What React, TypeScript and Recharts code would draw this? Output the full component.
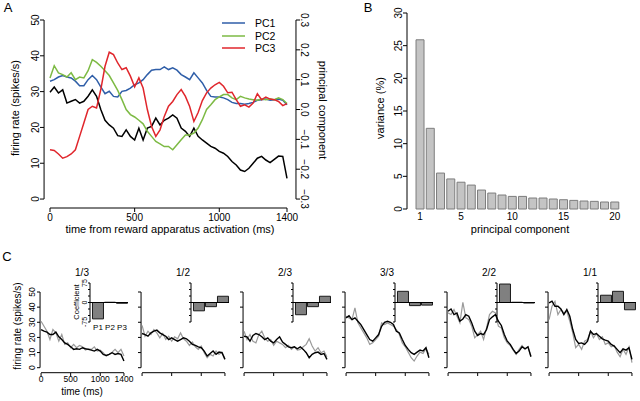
import React from "react";
import {
  Bar,
  BarChart,
  Legend,
  Line,
  LineChart,
  ReferenceLine,
  XAxis,
  YAxis,
} from "recharts";

const FONT = '"Liberation Sans", Arial, Helvetica, sans-serif';

// ---------- panel A: population firing rate + principal components ----------
const timeA = [
  0, 25, 50, 75, 100, 125, 150, 175, 200, 225, 250, 275, 300, 325, 350, 375,
  400, 425, 450, 475, 500, 525, 550, 575, 600, 625, 650, 675, 700, 725, 750,
  775, 800, 825, 850, 875, 900, 925, 950, 975, 1000, 1025, 1050, 1075, 1100,
  1125, 1150, 1175, 1200, 1225, 1250, 1275, 1300, 1325, 1350, 1375, 1400,
];
const rateA = [
  29.8, 31.3, 29.6, 30.5, 26.8, 27.3, 27.8, 26.8, 27.3, 28.7, 30.5, 28.7, 25,
  22, 20.7, 19.8, 17.7, 17.5, 19.3, 17.5, 16.5, 19.8, 16.5, 19.8, 20.3, 22.6,
  20.7, 22, 22.6, 23.5, 22.6, 19.8, 18.9, 17.5, 19.8, 17.5, 16.5, 15.6, 14.7,
  14.2, 13.3, 12.8, 11.9, 10.5, 9.5, 8.1, 7.7, 8.6, 10, 11.4, 11.9, 10.9, 10.2,
  11.1, 12, 11.9, 5.8,
];
const pc1A = [
  0.095, 0.1, 0.109, 0.114, 0.109, 0.106, 0.095, 0.08, 0.08, 0.1, 0.114, 0.1,
  0.076, 0.053, 0.061, 0.044, 0.042, 0.061, 0.064, 0.072, 0.083, 0.089, 0.1,
  0.117, 0.132, 0.134, 0.134, 0.143, 0.134, 0.14, 0.132, 0.117, 0.109, 0.1,
  0.123, 0.106, 0.089, 0.064, 0.044, 0.042, 0.042, 0.039, 0.033, 0.024, 0.02,
  0.02, 0.018, 0.02, 0.024, 0.031, 0.033, 0.035, 0.031, 0.033, 0.035, 0.031,
  0.016,
];
const pc2A = [
  0.106, 0.147, 0.123, 0.117, 0.109, 0.123, 0.1, 0.109, 0.106, 0.13, 0.167,
  0.158, 0.145, 0.13, 0.114, 0.089, 0.064, 0.033, 0.0, -0.017, -0.025, -0.036,
  -0.048, -0.073, -0.09, -0.107, -0.115, -0.124, -0.124, -0.135, -0.118,
  -0.101, -0.085, -0.085, -0.079, -0.062, -0.034, 0.0, 0.016, 0.033, 0.042,
  0.05, 0.05, 0.039, 0.033, 0.044, 0.039, 0.035, 0.033, 0.031, 0.035, 0.033,
  0.035, 0.033, 0.039, 0.033, 0.02,
];
const pc3A = [
  -0.135, -0.137, -0.149, -0.163, -0.158, -0.149, -0.135, -0.09, -0.045, 0.0,
  0.011, 0.005, 0.067, 0.145, 0.192, 0.184, 0.156, 0.134, 0.14, 0.112, 0.076,
  0.106, 0.072, 0.0, -0.057, -0.09, -0.068, -0.023, 0.011, 0.027, 0.05, 0.067,
  0.044, 0.01, -0.04, -0.01, 0.03, 0.056, 0.072, 0.083, 0.091, 0.078, 0.056,
  0.058, 0.033, 0.011, 0.016, 0.008, 0.022, 0.053, 0.033, 0.042, 0.035, 0.033,
  0.027, 0.013, 0.02,
];
const pcNames = ["PC1", "PC2", "PC3"];
const pcColors = ["#2f5ea8", "#7dba44", "#e0262c"];
const rateTicksA = [0, 10, 20, 30, 40, 50];
const pcTicksA = [-0.3, -0.2, -0.1, 0, 0.1, 0.2, 0.3];
const timeTicksA = [0, 500, 1000, 1400];

// ---------- panel B: variance explained ----------
const componentsB = [
  1, 2, 3, 4, 5, 6, 7, 8, 9, 10, 11, 12, 13, 14, 15, 16, 17, 18, 19, 20,
];
const varianceB = [
  25.9, 12.35, 5.5, 4.6, 4.1, 3.66, 2.9, 2.44, 2.14, 1.93, 1.93, 1.68, 1.68,
  1.53, 1.42, 1.32, 1.22, 1.17, 1.07, 1.07,
];
const varianceTicksB = [0, 5, 10, 15, 20, 25, 30];
const componentLabelsB = [1, 5, 10, 15, 20];

// ---------- panel C: example neurons, data (black) vs. reconstruction (gray) ----------
const timeC = [
  0, 50, 100, 150, 200, 250, 300, 350, 400, 450, 500, 550, 600, 650, 700, 750,
  800, 850, 900, 950, 1000, 1050, 1100, 1150, 1200, 1250, 1300, 1350, 1400,
];
const rateTicksC = [0, 10, 20, 30, 40, 50];
const timeTicksC = [0, 500, 1000, 1400];
const titlesC = ["1/3", "1/2", "2/3", "3/3", "2/2", "1/1"];

const black13 = [25.2, 24.1, 23.5, 21.9, 21.9, 23.5, 20.4, 18.6, 16.4, 15.4, 13.8, 12.1, 12.5, 12.1, 13.2, 12.5, 12.1, 11.6, 11, 12.1, 11, 8.8, 8.1, 8.8, 9.9, 8.8, 9.4, 8.8, 4.4];
const gray13 = [30.7, 27.4, 24.1, 18.6, 25.2, 23, 17.5, 21.9, 15.4, 16.4, 13.2, 15.4, 13.2, 14.7, 13.8, 11.6, 12.5, 12.1, 13.8, 11, 11.6, 9.9, 7.7, 8.8, 10.3, 12.1, 9.9, 12.1, 7.7];
const black12 = [22.6, 21.9, 20.8, 23, 24.1, 24.8, 23, 21.9, 20.8, 18.6, 19.7, 18.6, 17.5, 18.6, 19.7, 19.1, 17.5, 15.4, 14.7, 13.8, 13.2, 11, 7.7, 9.4, 11, 8.8, 10.3, 9.9, 5.5];
const gray12 = [27.9, 20.8, 24.1, 21.9, 25.2, 23, 19.7, 22.6, 18.6, 20.8, 17.5, 20.4, 19.1, 23, 19.1, 17.5, 14.7, 16.9, 13.8, 12.1, 14.3, 9.9, 6.6, 8.8, 7.7, 11, 8.8, 10.3, 5.9];
const black23 = [20.8, 20.4, 17.5, 21.3, 22.6, 21.9, 20.4, 18.6, 19.7, 17.5, 16.4, 18.6, 20.4, 16.9, 15.4, 13.8, 13.2, 13.8, 12.5, 13.8, 12.1, 9.9, 6.6, 8.8, 9.9, 10.3, 8.8, 9.4, 5.5];
const gray23 = [24.1, 18.6, 21.9, 17.5, 16.4, 21.9, 24.1, 19.7, 17.5, 18.6, 14.7, 17.5, 16.4, 15.4, 13.2, 14.7, 12.1, 13.8, 11.6, 12.1, 13.8, 15.4, 19.1, 14.3, 11, 13.2, 9.9, 11, 7.2];
const black33 = [32.9, 34.4, 31.8, 32.9, 30.7, 28.5, 25.2, 21.9, 18.6, 17.5, 19.7, 21.9, 27.4, 30, 30.7, 30, 28.5, 24.1, 23, 18.6, 14.7, 12.1, 9.9, 8.8, 10.3, 11.6, 11, 13.2, 6.6];
const gray33 = [34, 32.9, 31.8, 39.5, 29.6, 26.3, 23, 19.7, 15.4, 16.4, 18.6, 20.8, 29.6, 28.5, 29.6, 28.5, 27.4, 25.2, 21.9, 16.4, 13.8, 10.3, 6.6, 4.4, 7.7, 10.3, 9.4, 12.5, 8.8];
const black22 = [37.3, 38.8, 35.1, 36.2, 30.7, 32.2, 35.1, 34, 29.6, 24.1, 21.3, 22.6, 21.9, 25.2, 31.8, 33.6, 35.1, 30.7, 27.9, 21.9, 17.5, 15.4, 12.1, 9.4, 11, 13.8, 12.5, 13.8, 7.2];
const gray22 = [36.2, 35.1, 38.4, 34, 29.6, 43.2, 32.9, 31.8, 27.4, 19.7, 21.9, 24.1, 18.6, 26.3, 35.1, 37.3, 36.2, 27.4, 26.3, 19.7, 16.4, 14.7, 11.6, 8.8, 12.1, 14.7, 12.1, 13.8, 7.7];
const black11 = [42.8, 43.9, 40.6, 40.6, 38.8, 35.1, 38.4, 34, 25.2, 18.6, 16, 16.4, 15.4, 17.5, 24.1, 21.9, 22.6, 20.8, 19.1, 18.2, 17.5, 15.4, 14.3, 12.1, 9.9, 12.5, 11.6, 13.2, 5.5];
const gray11 = [31.8, 40.6, 43.9, 35.1, 38.4, 36.2, 37.3, 30.7, 23, 13.2, 15.4, 12.1, 17.5, 18.6, 24.1, 19.7, 22.6, 18.6, 20.4, 15.4, 16.4, 13.8, 14.7, 10.3, 7.2, 12.1, 8.8, 13.8, 3.3];

const coefNames = ["P1", "P2", "P3"];
const coef13 = [-63, 1, -3];
const coef12 = [-32, -16, 24];
const coef23 = [-47, -16, 24];
const coef33 = [43, -12, -10];
const coef22 = [71, 1, -2];
const coef11 = [28, 43, -28];
const coefTicks = [-75, -50, -25, 0, 25, 50, 75];

// build chart rows
const dataA = timeA.map((t, i) => ({
  t,
  rate: rateA[i],
  pc1: pc1A[i],
  pc2: pc2A[i],
  pc3: pc3A[i],
}));
const dataB = componentsB.map((pc, i) => ({ pc, v: varianceB[i] }));
const tracesC = [
  [black13, gray13],
  [black12, gray12],
  [black23, gray23],
  [black33, gray33],
  [black22, gray22],
  [black11, gray11],
].map(([black, gray]) => timeC.map((t, i) => ({ t, black: black[i], gray: gray[i] })));
const coefsC = [coef13, coef12, coef23, coef33, coef22, coef11].map((c) =>
  coefNames.map((name, i) => ({ name, v: c[i] })),
);

// layout of the small multiples (x of each y axis)
const axC = [40, 141, 243, 345, 447, 548];

const fmtPc = (v: number) =>
  v === 0 ? "0.0" : (v < 0 ? "\u2212" : "") + Math.abs(v).toFixed(1);

const noLabel = () => <g />;

const leftTick =
  (size: number, fmt: (v: number) => string = String, show: (v: number) => boolean = () => true) =>
  (p: any) =>
    show(p.payload.value) ? (
      <text
        x={p.x}
        y={p.y}
        transform={`rotate(-90 ${p.x} ${p.y})`}
        textAnchor="middle"
        fontSize={size}
        fontFamily={FONT}
        fill="#000"
      >
        {fmt(p.payload.value)}
      </text>
    ) : (
      <g />
    );

// R-style detached axis: tick mark + rotated label, pushed `gap` px away from the plot
const detachedTick =
  (side: 1 | -1, gap: number, size: number, fmt: (v: number) => string = String) =>
  (p: any) => {
    const x0 = p.x + side * gap;
    const tx = x0 + side * 5;
    return (
      <g>
        <line x1={x0} y1={p.y} x2={x0 + side * 4} y2={p.y} stroke="#000" strokeWidth={1} />
        <text
          x={tx}
          y={p.y}
          transform={`rotate(${side * 90} ${tx} ${p.y})`}
          textAnchor="middle"
          fontSize={size}
          fontFamily={FONT}
          fill="#000"
        >
          {fmt(p.payload.value)}
        </text>
      </g>
    );
  };

const Txt = ({ x, y, size, rot = 0, children }: any) => (
  <div
    style={{
      position: "absolute",
      left: x,
      top: y,
      transform: `translate(-50%, -50%) rotate(${rot}deg)`,
      fontFamily: FONT,
      fontSize: size,
      lineHeight: 1,
      whiteSpace: "nowrap",
      color: "#000",
    }}
  >
    {children}
  </div>
);

const LegendA = (props: any) => (
  <div style={{ fontFamily: FONT, fontSize: 10.5 }}>
    {(props.payload || [])
      .filter((p: any) => pcNames.includes(p.value))
      .map((p: any) => (
        <div key={p.value} style={{ display: "flex", alignItems: "center", height: 12.5 }}>
          <svg width={23} height={4}>
            <line x1={0} y1={2} x2={23} y2={2} stroke={p.color} strokeWidth={1.5} />
          </svg>
          <span style={{ marginLeft: 10 }}>{p.value}</span>
        </div>
      ))}
  </div>
);

const axisStroke = { stroke: "#000", strokeWidth: 1 };

function PanelA() {
  return (
    <div style={{ position: "absolute", left: 0, top: 0 }}>
      <LineChart width={340} height={240} data={dataA} margin={{ top: 20, right: 0, bottom: 0, left: 0 }}>
        <XAxis
          dataKey="t"
          type="number"
          domain={[0, 1400]}
          ticks={timeTicksA}
          interval={0}
          axisLine={axisStroke}
          tickLine={axisStroke}
          tickSize={4}
          tickMargin={2}
          height={32}
          tick={{ fontSize: 10, fill: "#000", fontFamily: FONT }}
        />
        <YAxis
          yAxisId="rate"
          domain={[-2.5, 50]}
          ticks={rateTicksA}
          interval={0}
          width={50}
          axisLine={false}
          tickLine={false}
          tickSize={0}
          tickMargin={0}
          tick={detachedTick(-1, 6, 10)}
        />
        <YAxis
          yAxisId="pc"
          orientation="right"
          domain={[-0.33, 0.3]}
          ticks={pcTicksA}
          interval={0}
          width={53}
          axisLine={false}
          tickLine={false}
          tickSize={0}
          tickMargin={0}
          tick={detachedTick(1, 9, 10, fmtPc)}
        />
        <ReferenceLine yAxisId="rate" ifOverflow="visible" segment={[{ x: -35, y: 0 }, { x: -35, y: 50 }]} stroke="#000" />
        <ReferenceLine yAxisId="pc" ifOverflow="visible" segment={[{ x: 1453, y: -0.3 }, { x: 1453, y: 0.3 }]} stroke="#000" />
        <Line yAxisId="rate" dataKey="rate" stroke="#000" strokeWidth={1.5} dot={false} legendType="none" isAnimationActive={false} />
        <Line yAxisId="pc" dataKey="pc1" name={pcNames[0]} stroke={pcColors[0]} strokeWidth={1.5} dot={false} isAnimationActive={false} />
        <Line yAxisId="pc" dataKey="pc2" name={pcNames[1]} stroke={pcColors[1]} strokeWidth={1.5} dot={false} isAnimationActive={false} />
        <Line yAxisId="pc" dataKey="pc3" name={pcNames[2]} stroke={pcColors[2]} strokeWidth={1.5} dot={false} isAnimationActive={false} />
        <Legend
          layout="vertical"
          verticalAlign="middle"
          align="center"
          wrapperStyle={{ left: 222, top: 17, width: 70 }}
          content={LegendA}
        />
      </LineChart>
    </div>
  );
}

function PanelB() {
  return (
    <div style={{ position: "absolute", left: 330, top: 0 }}>
      <BarChart width={300} height={240} data={dataB} margin={{ top: 13, right: 10, bottom: 0, left: 0 }} barCategoryGap="10%">
        <XAxis
          dataKey="pc"
          padding={{ left: 8, right: 0 }}
          axisLine={false}
          tickLine={false}
          tickSize={2}
          tickMargin={2}
          interval={0}
          height={31}
          tick={(p: any) =>
            componentLabelsB.includes(p.payload.value) ? (
              <text x={p.x} y={p.y} dy="0.71em" textAnchor="middle" fontSize={10} fontFamily={FONT} fill="#000">
                {p.payload.value}
              </text>
            ) : (
              <g />
            )
          }
        />
        <YAxis
          domain={[0, 30]}
          ticks={varianceTicksB}
          interval={0}
          width={77}
          axisLine={axisStroke}
          tickLine={axisStroke}
          tickSize={4}
          tickMargin={1}
          tick={leftTick(10)}
        />
        <Bar dataKey="v" fill="#c4c4c4" stroke="#7d7d7d" strokeWidth={1} isAnimationActive={false} />
      </BarChart>
    </div>
  );
}

function TraceC({ idx }: { idx: number }) {
  const first = idx === 0;
  const ax = axC[idx];
  return (
    <div style={{ position: "absolute", left: ax - 30, top: 262 }}>
      <LineChart width={134} height={138} data={tracesC[idx]} margin={{ top: 30, right: 20, bottom: 0, left: 0 }}>
        <XAxis
          dataKey="t"
          type="number"
          domain={[-18, 1401]}
          ticks={timeTicksC}
          interval={0}
          axisLine={false}
          tickLine={axisStroke}
          tickSize={3}
          tickMargin={0}
          height={27}
          tick={first ? { fontSize: 8.5, fill: "#000", fontFamily: FONT } : noLabel}
        />
        <YAxis
          domain={[-3.5, 50]}
          ticks={rateTicksC}
          interval={0}
          width={30}
          axisLine={false}
          tickLine={axisStroke}
          tickSize={3}
          tickMargin={2}
          tick={first ? leftTick(8.5) : noLabel}
        />
        <ReferenceLine ifOverflow="visible" segment={[{ x: 0, y: -3.3 }, { x: 1400, y: -3.3 }]} stroke="#000" />
        <ReferenceLine ifOverflow="visible" segment={[{ x: -17, y: 0 }, { x: -17, y: 50 }]} stroke="#000" />
        <Line dataKey="gray" stroke="#9a9a9a" strokeWidth={1.2} dot={false} isAnimationActive={false} />
        <Line dataKey="black" stroke="#000" strokeWidth={1.4} dot={false} isAnimationActive={false} />
      </LineChart>
    </div>
  );
}

function InsetC({ idx }: { idx: number }) {
  const first = idx === 0;
  const ax = axC[idx] + 50;
  return (
    <div style={{ position: "absolute", left: ax - 22, top: 275 }}>
      <BarChart width={62} height={61} data={coefsC[idx]} margin={{ top: 8, right: 2, bottom: 0, left: 0 }} barCategoryGap="4%">
        <XAxis
          dataKey="name"
          padding={{ left: 2, right: 0 }}
          axisLine={false}
          tickLine={false}
          tickSize={0}
          tickMargin={2}
          interval={0}
          height={14}
          tick={first ? { fontSize: 8, fill: "#000", fontFamily: FONT } : false}
        />
        <YAxis
          domain={[-75, 75]}
          ticks={coefTicks}
          interval={0}
          width={22}
          axisLine={axisStroke}
          tickLine={axisStroke}
          tickSize={2}
          tickMargin={1}
          tick={first ? leftTick(7, String, (v) => v % 75 === 0) : noLabel}
        />
        <ReferenceLine y={0} stroke="#000" />
        <Bar dataKey="v" fill="#808080" stroke="#1a1a1a" strokeWidth={1} isAnimationActive={false} />
      </BarChart>
    </div>
  );
}

export default function App() {
  return (
    <div style={{ position: "absolute", left: 0, top: 0, width: 640, height: 401, background: "#fff", overflow: "hidden" }}>
      <PanelA />
      <PanelB />
      {axC.map((_, i) => (
        <TraceC key={"t" + i} idx={i} />
      ))}
      {axC.map((_, i) => (
        <InsetC key={"i" + i} idx={i} />
      ))}

      <Txt x={8} y={7} size={13}>A</Txt>
      <Txt x={368} y={7} size={13}>B</Txt>
      <Txt x={7} y={256} size={13}>C</Txt>

      <Txt x={15} y={108} size={11} rot={-90}>firing rate (spikes/s)</Txt>
      <Txt x={322} y={110} size={11} rot={90}>principal component</Txt>
      <Txt x={170} y={229} size={11}>time from reward apparatus activation (ms)</Txt>

      <Txt x={380} y={108} size={11} rot={-90}>variance (%)</Txt>
      <Txt x={520} y={229} size={11}>principal component</Txt>

      <Txt x={18} y={326} size={10} rot={-90}>firing rate (spikes/s)</Txt>
      <Txt x={82} y={392} size={10}>time (ms)</Txt>
      <Txt x={77} y={302} size={7.5} rot={-90}>Coefficient</Txt>
      {titlesC.map((t, i) => (
        <Txt key={t} x={axC[i] + 42} y={273} size={10}>{t}</Txt>
      ))}
    </div>
  );
}
